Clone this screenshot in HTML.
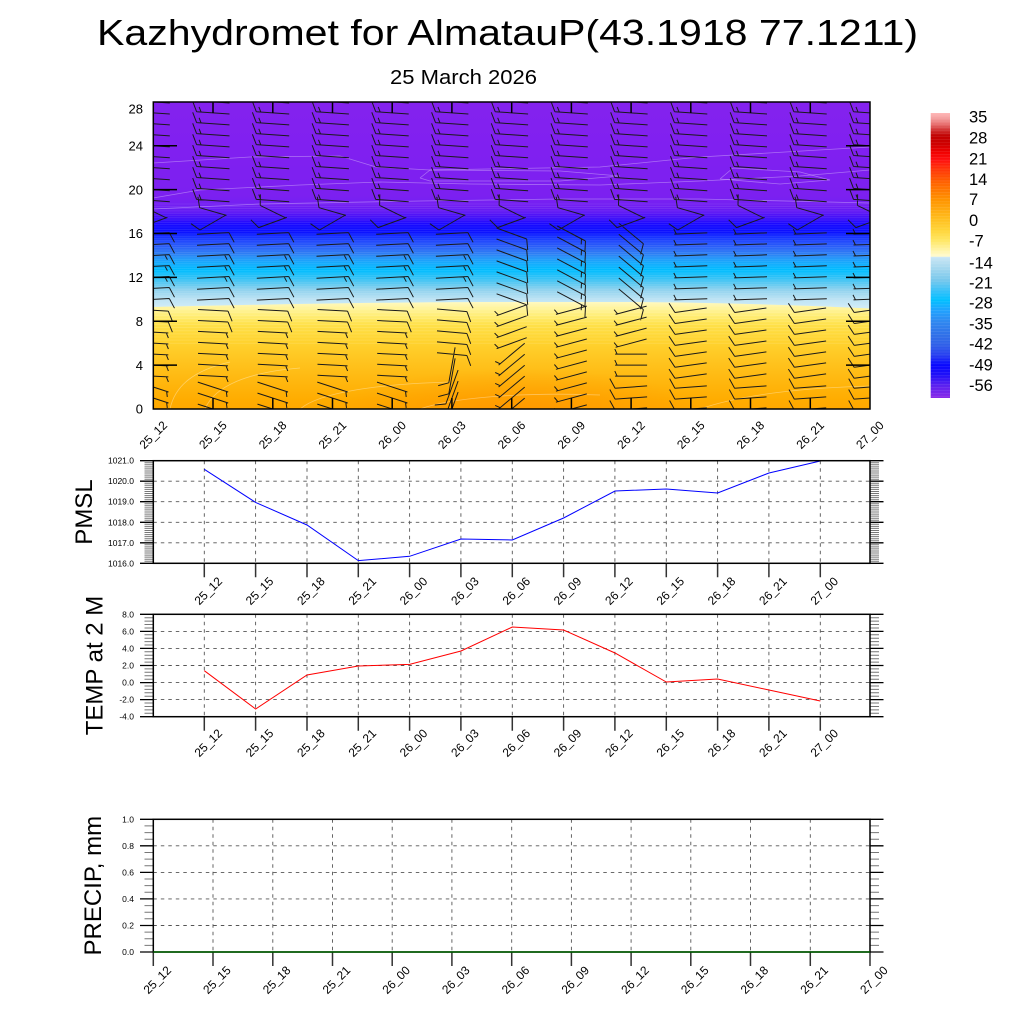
<!DOCTYPE html>
<html>
<head>
<meta charset="utf-8">
<style>
html,body{margin:0;padding:0;background:#fff;overflow:hidden;}
svg{display:block;}
text{font-family:"Liberation Sans",Arial,Helvetica,sans-serif;fill:#000;}
.yl{font-size:8.5px;text-anchor:end;}
.xl{font-size:12px;text-anchor:middle;dominant-baseline:central;}
.tl{font-size:13px;text-anchor:end;}
.cl{font-size:16.5px;}
</style>
</head>
<body>
<svg id="s" width="1024" height="1024" viewBox="0 0 1024 1024" xmlns="http://www.w3.org/2000/svg">
<defs>
  <linearGradient id="gblue" gradientUnits="userSpaceOnUse" x1="0" y1="102" x2="0" y2="409">
    <stop offset="0" stop-color="#8422ee"/>
    <stop offset="0.156" stop-color="#8020f0"/>
    <stop offset="0.303" stop-color="#7c20f0"/>
    <stop offset="0.336" stop-color="#7420f2"/>
    <stop offset="0.358" stop-color="#6018f4"/>
    <stop offset="0.378" stop-color="#4010f8"/>
    <stop offset="0.397" stop-color="#1a0aff"/>
    <stop offset="0.423" stop-color="#0a10ff"/>
    <stop offset="0.443" stop-color="#1838ff"/>
    <stop offset="0.469" stop-color="#2a5cf8"/>
    <stop offset="0.495" stop-color="#2e80f4"/>
    <stop offset="0.521" stop-color="#18a8fc"/>
    <stop offset="0.547" stop-color="#00bcff"/>
    <stop offset="0.580" stop-color="#40c4f4"/>
    <stop offset="0.612" stop-color="#90d2ee"/>
    <stop offset="0.645" stop-color="#c0e4f4"/>
    <stop offset="0.678" stop-color="#d4eef8"/>
    <stop offset="1" stop-color="#d4eef8"/>
  </linearGradient>
  <linearGradient id="gyel" gradientUnits="userSpaceOnUse" x1="0" y1="300" x2="0" y2="409">
    <stop offset="0" stop-color="#fffbd0"/>
    <stop offset="0.055" stop-color="#fff6a8"/>
    <stop offset="0.14" stop-color="#ffee78"/>
    <stop offset="0.23" stop-color="#ffe048"/>
    <stop offset="0.37" stop-color="#ffd430"/>
    <stop offset="0.55" stop-color="#ffc520"/>
    <stop offset="0.73" stop-color="#ffb810"/>
    <stop offset="0.92" stop-color="#ffac00"/>
    <stop offset="1" stop-color="#ffa800"/>
  </linearGradient>
  <radialGradient id="gblob" cx="0.5" cy="0.5" r="0.5">
    <stop offset="0" stop-color="#ff9000" stop-opacity="0.75"/>
    <stop offset="1" stop-color="#ff9000" stop-opacity="0"/>
  </radialGradient>
  <linearGradient id="gcb" gradientUnits="userSpaceOnUse" x1="0" y1="113" x2="0" y2="398">
    <stop offset="0" stop-color="#ffb8b8"/>
    <stop offset="0.018" stop-color="#f4a0a0"/>
    <stop offset="0.039" stop-color="#e87070"/>
    <stop offset="0.060" stop-color="#d03030"/>
    <stop offset="0.081" stop-color="#c00000"/>
    <stop offset="0.112" stop-color="#d00000"/>
    <stop offset="0.137" stop-color="#f00000"/>
    <stop offset="0.165" stop-color="#ff1010"/>
    <stop offset="0.200" stop-color="#ff3808"/>
    <stop offset="0.235" stop-color="#ff5a00"/>
    <stop offset="0.270" stop-color="#ff7800"/>
    <stop offset="0.305" stop-color="#ff9400"/>
    <stop offset="0.340" stop-color="#ffaa10"/>
    <stop offset="0.375" stop-color="#ffc020"/>
    <stop offset="0.411" stop-color="#ffd438"/>
    <stop offset="0.446" stop-color="#ffe660"/>
    <stop offset="0.481" stop-color="#fff4a8"/>
    <stop offset="0.5035" stop-color="#fffbd0"/>
    <stop offset="0.5055" stop-color="#c8e6f6"/>
    <stop offset="0.533" stop-color="#b0dcf0"/>
    <stop offset="0.586" stop-color="#78c8ec"/>
    <stop offset="0.628" stop-color="#30c0fa"/>
    <stop offset="0.656" stop-color="#00c0ff"/>
    <stop offset="0.691" stop-color="#20a4ff"/>
    <stop offset="0.733" stop-color="#3088f0"/>
    <stop offset="0.779" stop-color="#3070e8"/>
    <stop offset="0.814" stop-color="#3060e8"/>
    <stop offset="0.849" stop-color="#2840f0"/>
    <stop offset="0.884" stop-color="#0808ff"/>
    <stop offset="0.919" stop-color="#2010f8"/>
    <stop offset="0.954" stop-color="#5820f0"/>
    <stop offset="1" stop-color="#8a2ae8"/>
  </linearGradient>
  <clipPath id="cp"><rect x="153.3" y="102" width="716.7" height="307"/></clipPath>
</defs>

<rect x="0" y="0" width="1024" height="1024" fill="#fff"/>

<!-- Titles -->
<text x="97" y="45" font-size="36" textLength="821" lengthAdjust="spacingAndGlyphs">Kazhydromet for AlmatauP(43.1918 77.1211)</text>
<text x="390" y="84" font-size="20" textLength="147" lengthAdjust="spacingAndGlyphs">25 March 2026</text>

<!-- Top plot -->
<g clip-path="url(#cp)">
  <rect x="153.3" y="102" width="716.7" height="307" fill="url(#gblue)"/>
  <path d="M153.3,307 C300,303.5 420,302 500,302 L640,302 C740,303 820,306 870,308.5 L870,409 L153.3,409 Z" fill="url(#gyel)"/>
  <ellipse cx="520" cy="418" rx="190" ry="50" fill="url(#gblob)"/>
  <g id="bands"></g>
  <g fill="none" stroke="#ffffff" stroke-opacity="0.35" stroke-width="0.8">
    <polyline points="153,163 250,157 340,156 376,167 430,170 600,167 700,157 870,147"/>
    <polyline points="153,198 200,190 300,185 380,182 470,184 600,185 700,181 800,176 870,170"/>
    <polyline points="153,209 260,204 420,201 560,199 700,199 870,203"/>
    <polyline points="420,178 430,170 560,171 620,176 560,181 430,181 420,178"/>
    <polyline points="720,179 733,168 800,172 830,180 780,184 720,179"/>
    <path d="M170,409 C175,385 195,370 230,362 M205,409 C215,385 250,372 300,368 M300,409 C320,392 380,384 450,382 M420,409 C450,398 520,392 600,395 M700,409 C740,395 800,388 870,386"/>
  </g>
  <path id="barbs" d="" fill="none" stroke="#1a1a1a" stroke-width="1"/>
</g>
<rect x="153.3" y="102" width="716.7" height="307" fill="none" stroke="#000" stroke-width="1.5"/>
<g id="topticks" stroke="#000" stroke-width="1.5"></g>

<!-- Top y labels -->
<text class="tl" x="143" y="113.7">28</text>
<text class="tl" x="143" y="150.5">24</text>
<text class="tl" x="143" y="194.3">20</text>
<text class="tl" x="143" y="238.2">16</text>
<text class="tl" x="143" y="282.1">12</text>
<text class="tl" x="143" y="326">8</text>
<text class="tl" x="143" y="369.8">4</text>
<text class="tl" x="143" y="413.7">0</text>

<!-- Top x labels -->
<text class="xl" x="153.3" y="435" transform="rotate(-45 153.3 435)">25_12</text>
<text class="xl" x="213" y="435" transform="rotate(-45 213 435)">25_15</text>
<text class="xl" x="272.7" y="435" transform="rotate(-45 272.7 435)">25_18</text>
<text class="xl" x="332.5" y="435" transform="rotate(-45 332.5 435)">25_21</text>
<text class="xl" x="392.2" y="435" transform="rotate(-45 392.2 435)">26_00</text>
<text class="xl" x="451.9" y="435" transform="rotate(-45 451.9 435)">26_03</text>
<text class="xl" x="511.6" y="435" transform="rotate(-45 511.6 435)">26_06</text>
<text class="xl" x="571.3" y="435" transform="rotate(-45 571.3 435)">26_09</text>
<text class="xl" x="631.1" y="435" transform="rotate(-45 631.1 435)">26_12</text>
<text class="xl" x="690.8" y="435" transform="rotate(-45 690.8 435)">26_15</text>
<text class="xl" x="750.5" y="435" transform="rotate(-45 750.5 435)">26_18</text>
<text class="xl" x="810.2" y="435" transform="rotate(-45 810.2 435)">26_21</text>
<text class="xl" x="870" y="435" transform="rotate(-45 870 435)">27_00</text>

<!-- Colorbar -->
<rect x="930.7" y="113" width="19.3" height="285" fill="url(#gcb)"/>
<g id="cbbands"></g>
<text class="cl" x="969" y="122.7">35</text>
<text class="cl" x="969" y="143.3">28</text>
<text class="cl" x="969" y="164.3">21</text>
<text class="cl" x="969" y="185">14</text>
<text class="cl" x="969" y="205">7</text>
<text class="cl" x="969" y="226">0</text>
<text class="cl" x="969" y="246.7">-7</text>
<text class="cl" x="969" y="268.3">-14</text>
<text class="cl" x="969" y="288.3">-21</text>
<text class="cl" x="969" y="308.3">-28</text>
<text class="cl" x="969" y="329.3">-35</text>
<text class="cl" x="969" y="349.3">-42</text>
<text class="cl" x="969" y="370.3">-49</text>
<text class="cl" x="969" y="391">-56</text>

<!-- Lower panels axes (grid, ticks) -->
<g id="axes"></g>

<!-- PMSL -->
<polyline points="204.3,469.3 255.6,502.4 307,525 358.3,560.6 409.6,556.3 461,539 512.3,540 563.6,518 615,491 666.3,489 717.6,493 769,473 820.3,461" fill="none" stroke="#0000ff" stroke-width="1"/>
<rect x="153.3" y="460.7" width="716.7" height="102.6" fill="none" stroke="#000" stroke-width="1.5"/>
<text class="yl" x="134" y="463.7">1021.0</text>
<text class="yl" x="134" y="484.2">1020.0</text>
<text class="yl" x="134" y="504.7">1019.0</text>
<text class="yl" x="134" y="525.3">1018.0</text>
<text class="yl" x="134" y="545.8">1017.0</text>
<text class="yl" x="134" y="566.3">1016.0</text>
<text x="92" y="512" font-size="24" text-anchor="middle" transform="rotate(-90 92 512)">PMSL</text>
<text class="xl" x="208.3" y="591" transform="rotate(-45 208.3 591)">25_12</text>
<text class="xl" x="259.6" y="591" transform="rotate(-45 259.6 591)">25_15</text>
<text class="xl" x="311" y="591" transform="rotate(-45 311 591)">25_18</text>
<text class="xl" x="362.3" y="591" transform="rotate(-45 362.3 591)">25_21</text>
<text class="xl" x="413.6" y="591" transform="rotate(-45 413.6 591)">26_00</text>
<text class="xl" x="465" y="591" transform="rotate(-45 465 591)">26_03</text>
<text class="xl" x="516.3" y="591" transform="rotate(-45 516.3 591)">26_06</text>
<text class="xl" x="567.6" y="591" transform="rotate(-45 567.6 591)">26_09</text>
<text class="xl" x="619" y="591" transform="rotate(-45 619 591)">26_12</text>
<text class="xl" x="670.3" y="591" transform="rotate(-45 670.3 591)">26_15</text>
<text class="xl" x="721.6" y="591" transform="rotate(-45 721.6 591)">26_18</text>
<text class="xl" x="773" y="591" transform="rotate(-45 773 591)">26_21</text>
<text class="xl" x="824.3" y="591" transform="rotate(-45 824.3 591)">27_00</text>

<!-- TEMP -->
<polyline points="204.3,670.7 255.6,709 307,675 358.3,666 409.6,664.4 461,651 512.3,627 563.6,630 615,653 666.3,682 717.6,679 769,690 820.3,701" fill="none" stroke="#ff0000" stroke-width="1"/>
<rect x="153.3" y="614.3" width="716.7" height="102.4" fill="none" stroke="#000" stroke-width="1.5"/>
<text class="yl" x="134" y="617.3">8.0</text>
<text class="yl" x="134" y="634.4">6.0</text>
<text class="yl" x="134" y="651.4">4.0</text>
<text class="yl" x="134" y="668.5">2.0</text>
<text class="yl" x="134" y="685.6">0.0</text>
<text class="yl" x="134" y="702.6">-2.0</text>
<text class="yl" x="134" y="719.7">-4.0</text>
<text x="102.5" y="665.5" font-size="24" text-anchor="middle" transform="rotate(-90 102.5 665.5)">TEMP at 2 M</text>
<text class="xl" x="208.3" y="743" transform="rotate(-45 208.3 743)">25_12</text>
<text class="xl" x="259.6" y="743" transform="rotate(-45 259.6 743)">25_15</text>
<text class="xl" x="311" y="743" transform="rotate(-45 311 743)">25_18</text>
<text class="xl" x="362.3" y="743" transform="rotate(-45 362.3 743)">25_21</text>
<text class="xl" x="413.6" y="743" transform="rotate(-45 413.6 743)">26_00</text>
<text class="xl" x="465" y="743" transform="rotate(-45 465 743)">26_03</text>
<text class="xl" x="516.3" y="743" transform="rotate(-45 516.3 743)">26_06</text>
<text class="xl" x="567.6" y="743" transform="rotate(-45 567.6 743)">26_09</text>
<text class="xl" x="619" y="743" transform="rotate(-45 619 743)">26_12</text>
<text class="xl" x="670.3" y="743" transform="rotate(-45 670.3 743)">26_15</text>
<text class="xl" x="721.6" y="743" transform="rotate(-45 721.6 743)">26_18</text>
<text class="xl" x="773" y="743" transform="rotate(-45 773 743)">26_21</text>
<text class="xl" x="824.3" y="743" transform="rotate(-45 824.3 743)">27_00</text>

<!-- PRECIP -->
<rect x="153.3" y="819.3" width="716.7" height="132.7" fill="none" stroke="#000" stroke-width="1.5"/>
<line x1="153.3" y1="952" x2="870" y2="952" stroke="#006400" stroke-width="1.5"/>
<text class="yl" x="134" y="822.3">1.0</text>
<text class="yl" x="134" y="848.8">0.8</text>
<text class="yl" x="134" y="875.4">0.6</text>
<text class="yl" x="134" y="901.9">0.4</text>
<text class="yl" x="134" y="928.5">0.2</text>
<text class="yl" x="134" y="955">0.0</text>
<text x="101" y="885.7" font-size="24" text-anchor="middle" transform="rotate(-90 101 885.7)">PRECIP, mm</text>
<text class="xl" x="157.3" y="980" transform="rotate(-45 157.3 980)">25_12</text>
<text class="xl" x="217" y="980" transform="rotate(-45 217 980)">25_15</text>
<text class="xl" x="276.7" y="980" transform="rotate(-45 276.7 980)">25_18</text>
<text class="xl" x="336.5" y="980" transform="rotate(-45 336.5 980)">25_21</text>
<text class="xl" x="396.2" y="980" transform="rotate(-45 396.2 980)">26_00</text>
<text class="xl" x="455.9" y="980" transform="rotate(-45 455.9 980)">26_03</text>
<text class="xl" x="515.6" y="980" transform="rotate(-45 515.6 980)">26_06</text>
<text class="xl" x="575.3" y="980" transform="rotate(-45 575.3 980)">26_09</text>
<text class="xl" x="635.1" y="980" transform="rotate(-45 635.1 980)">26_12</text>
<text class="xl" x="694.8" y="980" transform="rotate(-45 694.8 980)">26_15</text>
<text class="xl" x="754.5" y="980" transform="rotate(-45 754.5 980)">26_18</text>
<text class="xl" x="814.2" y="980" transform="rotate(-45 814.2 980)">26_21</text>
<text class="xl" x="874" y="980" transform="rotate(-45 874 980)">27_00</text>
</svg>

<script>
(function(){
var NS="http://www.w3.org/2000/svg";
function el(p,tag,a){var e=document.createElementNS(NS,tag);for(var k in a)e.setAttribute(k,a[k]);p.appendChild(e);return e;}
function f(v){return v.toFixed(1);}

/* band texture */
var bands=document.getElementById('bands');
var bd='';
for(var y=204;y<300;y+=2.3){bd+='M153 '+f(y)+'H870';}
var bd2='';
for(var y2=306;y2<345;y2+=3.1){bd2+='M153 '+f(y2)+'H870';}
el(bands,'path',{d:bd,stroke:'#ffffff','stroke-opacity':'0.13','stroke-width':'0.6',fill:'none'});
el(bands,'path',{d:bd2,stroke:'#ffffff','stroke-opacity':'0.18','stroke-width':'0.6',fill:'none'});

/* colorbar band lines */
var cbb=document.getElementById('cbbands');
var cd='';
for(var yc=116;yc<398;yc+=2.95){cd+='M930.7 '+f(yc)+'H950';}
el(cbb,'path',{d:cd,stroke:'#ffffff','stroke-opacity':'0.12','stroke-width':'0.6',fill:'none'});

/* barbs */
var d='';
function barb(cx,cy,th,len,full,half){
  var r=th*Math.PI/180,dx=Math.cos(r),dy=Math.sin(r);
  var ax=cx+dx*len/2,ay=cy+dy*len/2,bx=cx-dx*len/2,by=cy-dy*len/2;
  d+='M'+f(bx)+' '+f(by)+'L'+f(ax)+' '+f(ay);
  var fr=(th+65)*Math.PI/180,fx=Math.cos(fr),fy=Math.sin(fr);
  var p=0;
  for(var j=0;j<full;j++){var px=ax-dx*p,py=ay-dy*p;d+='M'+f(px)+' '+f(py)+'l'+f(fx*11)+' '+f(fy*11);p+=4.5;}
  for(var h=0;h<half;h++){if(p==0)p=2;var qx=ax-dx*p,qy=ay-dy*p;d+='M'+f(qx)+' '+f(qy)+'l'+f(fx*5.5)+' '+f(fy*5.5);p+=4.5;}
}
function spec(i,k){
  if(k>=19) return [184,33,1,1];
  if(k==18) return [i%2?196:206,28,1,0];
  if(k==17) return [i%2?150:160,30,1,0];
  if(k>=10){
    if(i<=5) return [-3,32,1,(k>=12&&k<=14)?1:0];
    if(i==6) return [20,32,1,0];
    if(i==7) return [28,32,1,1];
    if(i==8) return [40,32,1,0];
    return [178,33,0,1];
  }
  if(k>=3){
    if(i<=4) return [3,30,k>=8?1:0,k>=8?0:1];
    if(i==5) return k>=5?[5,30,1,0]:[100,36,1,0];
    if(i==6) return k>=6?[160,32,0,1]:[140,34,0,1];
    if(i==7) return [165,32,0,1];
    if(i==8) return k>=6?[165,32,0,1]:[180,32,0,1];
    return [172,32,1,0];
  }
  if(i<=4) return [18,32,0,1];
  if(i==5) return [110,36,1,0];
  if(i==6) return [140,34,0,1];
  if(i==7) return [165,32,0,1];
  return [176,32,1,0];
}
for(var i=0;i<=12;i++){
  var xc=153.3+i*59.725;
  for(var k=0;k<=28;k++){
    var yc2=409-k*10.97;
    var s=spec(i,k);
    barb(xc,yc2,s[0],s[1],s[2],s[3]);
  }
}
document.getElementById('barbs').setAttribute('d',d);

/* top plot ticks */
var tt=document.getElementById('topticks');
var td='';
for(var i2=1;i2<=11;i2++){var x=153.3+i2*59.725;td+='M'+f(x)+' 102V113M'+f(x)+' 409V398';}
for(var k2=1;k2<7;k2++){var yy=409-k2*4*10.97;td+='M153.3 '+f(yy)+'H177M870 '+f(yy)+'H846';}
el(tt,'path',{d:td,fill:'none'});

/* lower panels */
var ax=document.getElementById('axes');
function panel(y0,y1,nInt,nMinor,xs,gxs){
  var gd='';
  for(var j=1;j<nInt;j++){var y=y0+(y1-y0)*j/nInt;gd+='M153.3 '+f(y)+'H870';}
  for(var q=0;q<gxs.length;q++){gd+='M'+f(gxs[q])+' '+f(y0)+'V'+f(y1);}
  el(ax,'path',{d:gd,stroke:'#555','stroke-width':'0.9','stroke-dasharray':'3.5 4',fill:'none'});
  var step=(y1-y0)/nInt/(nMinor+1);
  var md='',Md='';
  for(var t=0;t<=nInt*(nMinor+1);t++){
    var yv=y0+t*step;
    if(t%(nMinor+1)==0){Md+='M140 '+f(yv)+'H153.3M870 '+f(yv)+'H883.5';}
    else{md+='M144.5 '+f(yv)+'H153.3M870 '+f(yv)+'H879';}
  }
  el(ax,'path',{d:md,stroke:'#777','stroke-width':'1',fill:'none'});
  el(ax,'path',{d:Md,stroke:'#000','stroke-width':'1.3',fill:'none'});
  var bd3='';
  for(var u=0;u<xs.length;u++){bd3+='M'+f(xs[u])+' '+f(y1)+'V'+f(y1+14);}
  el(ax,'path',{d:bd3,stroke:'#333','stroke-width':'1.5',fill:'none'});
}
var xs1=[],xs2=[],gx2=[];
for(var a=0;a<=12;a++){xs1.push(204.3+a*51.33);xs2.push(153.3+a*59.725);if(a>=1&&a<=11)gx2.push(153.3+a*59.725);}
panel(460.7,563.3,5,9,xs1,xs1);
panel(614.3,716.7,6,4,xs1,xs1);
panel(819.3,952,5,3,xs2,gx2);
})();
</script>
</body>
</html>
